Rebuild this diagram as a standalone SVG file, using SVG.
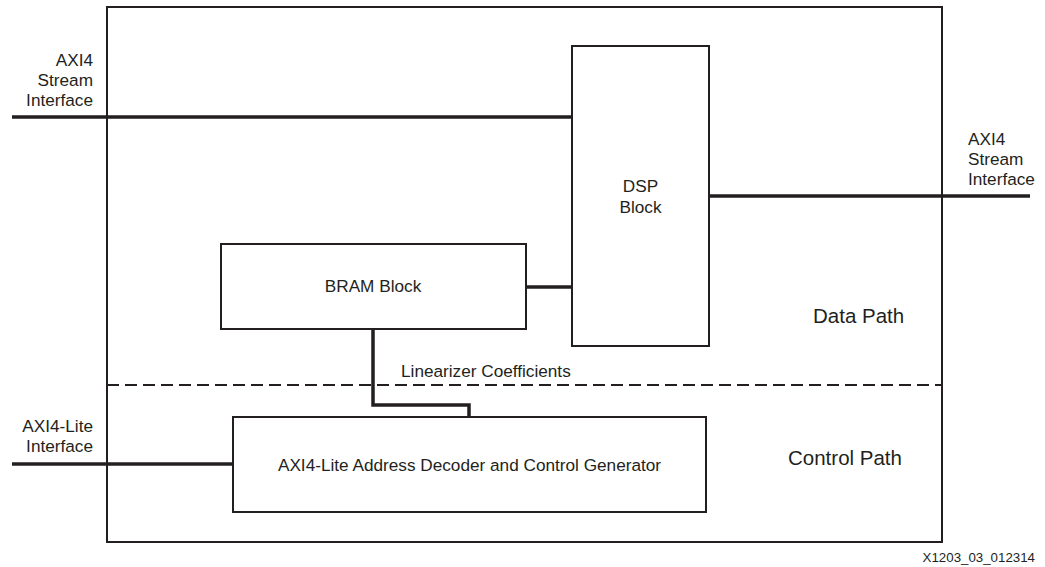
<svg xmlns="http://www.w3.org/2000/svg" width="1045" height="567" viewBox="0 0 1045 567">
<style>
.box{fill:#fff;stroke:#231f20;stroke-width:2}
.wire{fill:none;stroke:#231f20;stroke-width:3.5}
.t{font-family:"Liberation Sans",Arial,sans-serif;fill:#231f20;font-size:17.2px}
.big{font-size:20.5px}
.c{text-anchor:middle}
.r{text-anchor:end}
</style>
<rect width="1045" height="567" fill="#fff"/>
<g id="boundary">
<rect x="107" y="7" width="835" height="535" fill="none" stroke="#231f20" stroke-width="2"/>
<line x1="107" y1="385" x2="942" y2="385" stroke="#231f20" stroke-width="2" stroke-dasharray="12,6"/>
<text class="t big" x="813" y="323">Data Path</text>
<text class="t big" x="788" y="465">Control Path</text>
</g>
<g id="connectors">
<line class="wire" x1="12" y1="117" x2="572" y2="117"/>
<line class="wire" x1="709" y1="196" x2="1030" y2="196"/>
<line class="wire" x1="526" y1="287" x2="572" y2="287"/>
<polyline class="wire" points="373,329 373,405 469,405 469,417"/>
<line class="wire" x1="12" y1="464" x2="233" y2="464"/>
<text class="t" x="401" y="377">Linearizer Coefficients</text>
</g>
<g id="dsp">
<rect class="box" x="572" y="46" width="137" height="300"/>
<text class="t c" x="640.5" y="192">DSP</text>
<text class="t c" x="640.5" y="213">Block</text>
</g>
<g id="bram">
<rect class="box" x="221" y="244" width="305" height="85"/>
<text class="t c" x="373" y="292">BRAM Block</text>
</g>
<g id="axilite">
<rect class="box" x="233" y="417" width="473" height="95"/>
<text class="t c" x="469.5" y="471">AXI4-Lite Address Decoder and Control Generator</text>
</g>
<g id="label-axis-in">
<text class="t r" x="93" y="66">AXI4</text>
<text class="t r" x="93" y="86">Stream</text>
<text class="t r" x="93" y="106">Interface</text>
</g>
<g id="label-axis-out">
<text class="t" x="968" y="145">AXI4</text>
<text class="t" x="968" y="165">Stream</text>
<text class="t" x="968" y="185">Interface</text>
</g>
<g id="label-axilite">
<text class="t r" x="93" y="432">AXI4-Lite</text>
<text class="t r" x="93" y="452">Interface</text>
</g>
<text class="t r" x="1035" y="562" style="font-size:13.3px">X1203_03_012314</text>
</svg>
